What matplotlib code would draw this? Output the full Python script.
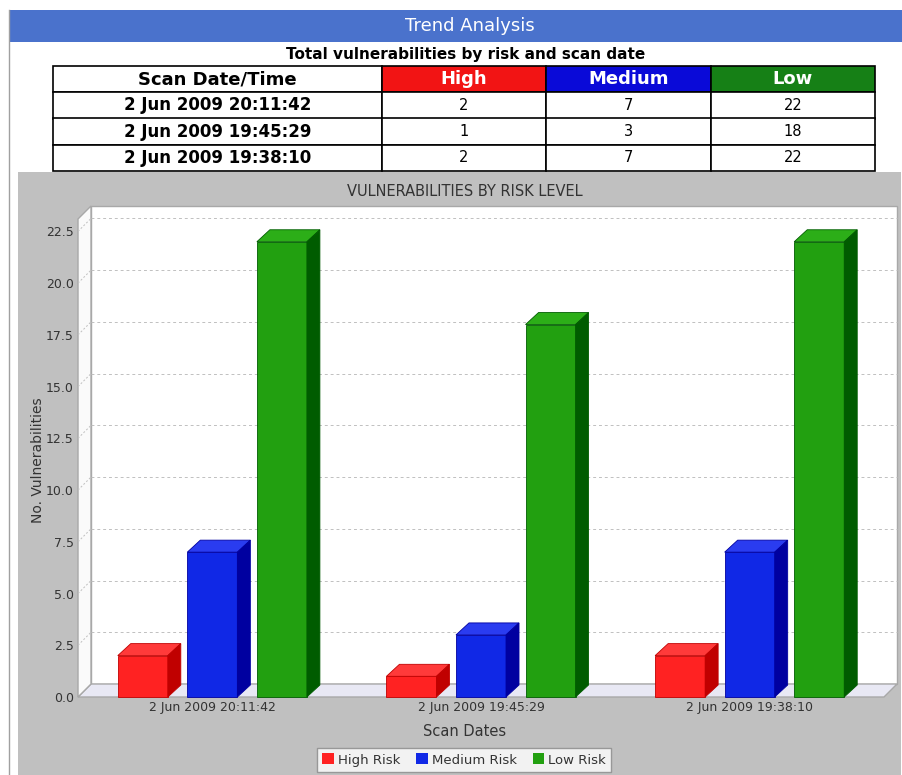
import numpy as np
import matplotlib
matplotlib.use("Agg")
import matplotlib.pyplot as plt
from matplotlib.patches import Rectangle, Polygon, Patch

# data
scan_dates = ["2 Jun 2009 20:11:42", "2 Jun 2009 19:45:29", "2 Jun 2009 19:38:10"]
high = [2, 1, 2]
medium = [7, 3, 7]
low = [22, 18, 22]
series_names = ["High Risk", "Medium Risk", "Low Risk"]
table_header = ["Scan Date/Time", "High", "Medium", "Low"]
y_ticks = [0.0, 2.5, 5.0, 7.5, 10.0, 12.5, 15.0, 17.5, 20.0, 22.5]

front_cols = ["#ff2222", "#1028e6", "#22a010"]
side_cols = ["#c00000", "#0000a0", "#005c00"]
top_cols = ["#ff3a3a", "#2a3cf0", "#2cae18"]
head_cols = ["white", "#f21414", "#0a0ad8", "#168016"]

W, H = 903, 775
fig = plt.figure(figsize=(W / 100, H / 100), dpi=100)


def fx(px):
    return px / W


def fy(py):
    return 1 - py / H


# page background bits
fig.add_artist(Rectangle((fx(10), fy(42)), fx(903) - fx(10), fy(10) - fy(42),
                         transform=fig.transFigure, facecolor="#4a72cc", edgecolor="none",
                         zorder=-10))
fig.text(fx(470), fy(26), "Trend Analysis", color="white", fontsize=13,
         ha="center", va="center")
fig.add_artist(plt.Line2D([fx(8.5), fx(8.5)], [fy(10), 0], transform=fig.transFigure,
                          color="#a0a0a0", lw=1, zorder=-10))
fig.add_artist(Rectangle((fx(18), 0), fx(901) - fx(18), fy(172), transform=fig.transFigure,
                         facecolor="#c0c0c0", edgecolor="none", zorder=-10))

# table
fig.text(fx(466), fy(55), "Total vulnerabilities by risk and scan date",
         fontsize=11, fontweight="bold", ha="center", va="center")
tax = fig.add_axes([fx(53), fy(171), fx(875) - fx(53), fy(66) - fy(171)])
tax.axis("off")
rows = [[d, str(h), str(m), str(l)] for d, h, m, l in zip(scan_dates, high, medium, low)]
tbl = tax.table(cellText=rows, colLabels=table_header, bbox=[0, 0, 1, 1],
                colWidths=[0.4, 0.2, 0.2, 0.2], cellLoc="center")
tbl.auto_set_font_size(False)
for (r, c), cell in tbl.get_celld().items():
    cell.set_linewidth(1.2)
    cell.set_edgecolor("black")
    if r == 0:
        cell.set_facecolor(head_cols[c])
        cell.get_text().set_color("black" if c == 0 else "white")
        cell.get_text().set_fontweight("bold")
        cell.get_text().set_fontsize(13)
    else:
        cell.get_text().set_fontsize(12 if c == 0 else 10.5)
        if c == 0:
            cell.get_text().set_fontweight("bold")

# chart
fig.text(fx(465), fy(191), "VULNERABILITIES BY RISK LEVEL", fontsize=10.5,
         color="#333333", ha="center", va="center")

x_left, x_right, y_bot, y_top = 78, 884, 697, 219
ax = fig.add_axes([fx(x_left), fy(y_bot), fx(x_right) - fx(x_left), fy(y_top) - fy(y_bot)])
ymax = 23.1
ax.set_xlim(-0.5, 2.5)
ax.set_ylim(0, ymax)
ax.patch.set_visible(False)
for s in ["top", "right", "left", "bottom"]:
    ax.spines[s].set_visible(False)

# depth offsets in data units
ddx = 13 * 3 / (x_right - x_left)
ddy = 13 * ymax / (y_bot - y_top)
gray = "#a8a8a8"

ax.add_patch(Rectangle((-0.5 + ddx, ddy), 3, ymax, facecolor="white", edgecolor=gray,
                       lw=1, clip_on=False, zorder=0))
ax.add_patch(Polygon([(-0.5, 0), (2.5, 0), (2.5 + ddx, ddy), (-0.5 + ddx, ddy)],
                     facecolor="#e8e8f4", edgecolor=gray, lw=1, clip_on=False, zorder=1))
ax.add_patch(Polygon([(-0.5, 0), (-0.5 + ddx, ddy), (-0.5 + ddx, ymax + ddy), (-0.5, ymax)],
                     facecolor="#fafafa", edgecolor=gray, lw=1, clip_on=False, zorder=1))
for v in y_ticks[1:]:
    ax.plot([-0.5 + ddx, 2.5 + ddx], [v + ddy, v + ddy], ls=(0, (3, 3)), color="#c0c0c0",
            lw=0.7, clip_on=False, zorder=1)
    ax.plot([-0.5, -0.5 + ddx], [v, v + ddy], ls=(0, (2, 2)), color="#c0c0c0",
            lw=0.7, clip_on=False, zorder=1)

# bars
x = np.arange(len(scan_dates))
bw = 50 / 268.5
pitch = 69.5 / 268.5
bdx = 13 * 3 / (x_right - x_left)
bdy = 12 * ymax / (y_bot - y_top)
for j, vals in enumerate([high, medium, low]):
    xs = x + (j - 1) * pitch
    ax.bar(xs, vals, width=bw, color=front_cols[j], edgecolor=side_cols[j], lw=0.6,
           zorder=3, clip_on=False)
    for xc, v in zip(xs, vals):
        x0 = xc - bw / 2
        ax.add_patch(Polygon([(x0, v), (x0 + bw, v), (x0 + bw + bdx, v + bdy), (x0 + bdx, v + bdy)],
                             facecolor=top_cols[j], edgecolor=side_cols[j], lw=0.6,
                             zorder=3, clip_on=False))
        ax.add_patch(Polygon([(x0 + bw, 0), (x0 + bw + bdx, bdy), (x0 + bw + bdx, v + bdy), (x0 + bw, v)],
                             facecolor=side_cols[j], edgecolor=side_cols[j], lw=0.6,
                             zorder=3, clip_on=False))

ax.set_yticks(y_ticks)
ax.set_yticklabels(["%.1f" % t for t in y_ticks])
ax.set_xticks(x)
ax.set_xticklabels(scan_dates)
ax.tick_params(axis="both", length=0, labelsize=9, labelcolor="#333333")
ax.tick_params(axis="y", pad=3)
ax.tick_params(axis="x", pad=3)

fig.text(fx(465), fy(731), "Scan Dates", fontsize=10.5, color="#333333", ha="center", va="center")
fig.text(fx(38), fy(460), "No. Vulnerabilities", fontsize=10, color="#333333",
         ha="center", va="center", rotation=90)

handles = [Patch(facecolor=front_cols[k], edgecolor="none", label=series_names[k]) for k in range(3)]
fig.legend(handles=handles, loc="center", bbox_to_anchor=(fx(464), fy(760)), ncol=3,
           fontsize=9.5, frameon=True, fancybox=False, edgecolor="#888888",
           handlelength=0.9, handleheight=0.9, handletextpad=0.3, columnspacing=1.2,
           borderpad=0.4, labelcolor="#333333")

fig.savefig("out.png", dpi=100)
